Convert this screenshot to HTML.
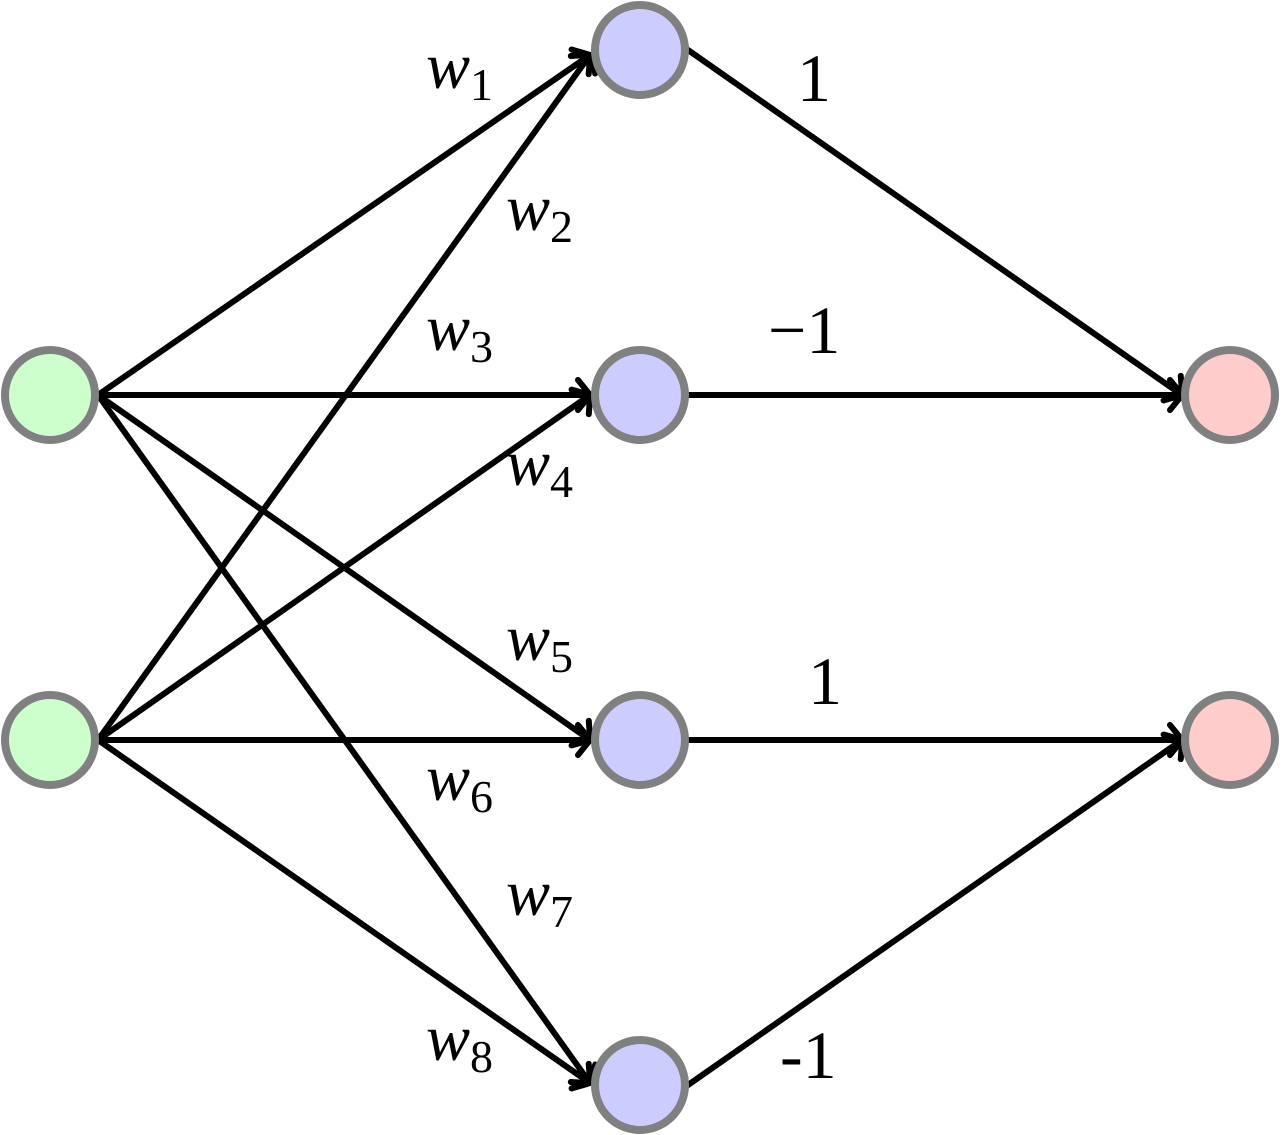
<!DOCTYPE html>
<html><head><meta charset="utf-8"><style>
html,body{margin:0;padding:0;background:#fff;}
svg{display:block;}
text{font-family:"Liberation Serif",serif;fill:#000;}
.w{font-style:italic;font-size:66px;}
.s{font-size:46px;font-style:normal;}
.n{font-size:68px;}
</style></head><body>
<svg id="g" width="1282" height="1135" viewBox="0 0 1282 1135" xmlns="http://www.w3.org/2000/svg">
<g id="edges" stroke="#000" stroke-width="6" fill="none" stroke-linecap="round"></g>
<g stroke="#808080" stroke-width="8">
<circle cx="50" cy="395" r="45" fill="#ccffcc"/>
<circle cx="50" cy="740" r="45" fill="#ccffcc"/>
<circle cx="640" cy="50" r="45" fill="#ccccff"/>
<circle cx="640" cy="395" r="45" fill="#ccccff"/>
<circle cx="640" cy="740" r="45" fill="#ccccff"/>
<circle cx="640" cy="1085" r="45" fill="#ccccff"/>
<circle cx="1230" cy="395" r="45" fill="#ffcccc"/>
<circle cx="1230" cy="740" r="45" fill="#ffcccc"/>
</g>
<text class="w" x="426" y="88">w<tspan class="s" dy="12">1</tspan></text>
<text class="w" x="506" y="230">w<tspan class="s" dy="12">2</tspan></text>
<text class="w" x="426" y="350">w<tspan class="s" dy="12">3</tspan></text>
<text class="w" x="506" y="485">w<tspan class="s" dy="12">4</tspan></text>
<text class="w" x="506" y="660">w<tspan class="s" dy="12">5</tspan></text>
<text class="w" x="426" y="800">w<tspan class="s" dy="12">6</tspan></text>
<text class="w" x="506" y="915">w<tspan class="s" dy="12">7</tspan></text>
<text class="w" x="426" y="1060">w<tspan class="s" dy="12">8</tspan></text>
<text class="n" x="797" y="101">1</text>
<text class="n" x="768" y="353">−1</text>
<text class="n" x="808" y="704">1</text>
<text class="n" x="780" y="1078">-1</text>
</svg>
<script>
var E=[[98,395,590,55],[98,395,590,395],[98,395,590,740],[98,395,590,1083],
[98,740,590,55],[98,740,590,395],[98,740,590,740],[98,740,590,1083],
[688,50,1182,395],[688,395,1182,395],[688,740,1182,740],[688,1085,1182,740]];
var h='';
E.forEach(function(e){
 var a=Math.atan2(e[3]-e[1],e[2]-e[0])*180/Math.PI;
 h+='<line x1="'+e[0]+'" y1="'+e[1]+'" x2="'+e[2]+'" y2="'+e[3]+'"/>';
 h+='<path transform="translate('+e[2]+','+e[3]+') rotate('+a+')" d="M -12,-15 Q -3,-4 0,0 Q -3,4 -12,15"/>';
});
document.getElementById('edges').innerHTML=h;
</script>
</body></html>
